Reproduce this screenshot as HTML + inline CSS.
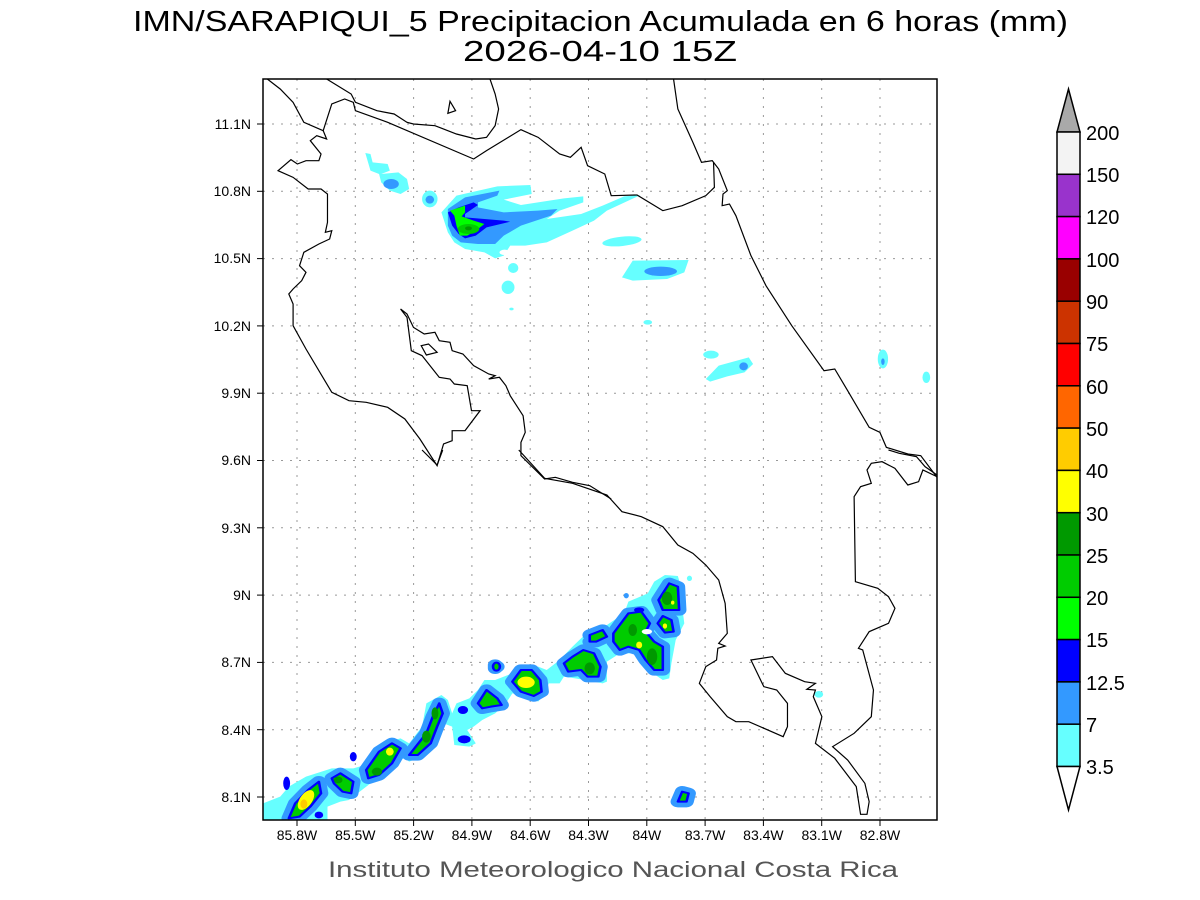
<!DOCTYPE html>
<html><head><meta charset="utf-8"><style>
body{margin:0;background:#fff;}
svg{display:block;font-family:"Liberation Sans",sans-serif;}
</style></head><body>
<svg width="1200" height="900" viewBox="0 0 1200 900" xmlns="http://www.w3.org/2000/svg">
<rect width="1200" height="900" fill="#fff"/>
<text x="133" y="31" font-size="29" fill="#000" textLength="935" lengthAdjust="spacingAndGlyphs">IMN/SARAPIQUI_5 Precipitacion Acumulada en 6 horas (mm)</text>
<text x="463" y="61" font-size="29" fill="#000" textLength="274" lengthAdjust="spacingAndGlyphs">2026-04-10 15Z</text>

<!-- grid -->
<g stroke="#999" stroke-width="1" stroke-dasharray="2,7">
<line x1="297" y1="79" x2="297" y2="820"/><line x1="355.3" y1="79" x2="355.3" y2="820"/><line x1="413.6" y1="79" x2="413.6" y2="820"/><line x1="471.9" y1="79" x2="471.9" y2="820"/><line x1="530.2" y1="79" x2="530.2" y2="820"/><line x1="588.5" y1="79" x2="588.5" y2="820"/><line x1="646.8" y1="79" x2="646.8" y2="820"/><line x1="705.1" y1="79" x2="705.1" y2="820"/><line x1="763.4" y1="79" x2="763.4" y2="820"/><line x1="821.7" y1="79" x2="821.7" y2="820"/><line x1="880" y1="79" x2="880" y2="820"/>
<line x1="263" y1="124" x2="937" y2="124"/><line x1="263" y1="191.3" x2="937" y2="191.3"/><line x1="263" y1="258.6" x2="937" y2="258.6"/><line x1="263" y1="325.9" x2="937" y2="325.9"/><line x1="263" y1="393.2" x2="937" y2="393.2"/><line x1="263" y1="460.5" x2="937" y2="460.5"/><line x1="263" y1="527.8" x2="937" y2="527.8"/><line x1="263" y1="595.1" x2="937" y2="595.1"/><line x1="263" y1="662.4" x2="937" y2="662.4"/><line x1="263" y1="729.7" x2="937" y2="729.7"/><line x1="263" y1="797" x2="937" y2="797"/>
</g>

<defs><clipPath id="c"><rect x="263" y="79" width="674" height="741"/></clipPath></defs>
<g clip-path="url(#c)">
<g transform="translate(263,79) scale(0.4299,0.33333)">
<polygon fill="#66ffff" points="415,400 450,350 545,322 622,318 625,345 560,362 600,378 700,358 745,352 745,370 690,395 660,420 740,405 790,380 840,352 878,348 850,365 800,395 770,425 720,455 660,490 610,500 575,500 560,530 540,538 515,520 470,510 445,490 430,460"/>
<polygon fill="#3399ff" points="430,390 470,355 550,335 545,350 500,370 500,385 560,400 640,395 685,390 670,410 600,440 560,470 540,495 500,495 460,490 440,470 430,440"/>
<polygon fill="#0000ff" points="430,400 455,385 490,370 500,378 470,405 470,415 560,425 575,428 520,445 495,470 470,478 455,465 440,440"/>
<polygon fill="#00ff00" points="435,395 470,380 470,400 462,412 490,425 515,435 495,455 475,470 458,470 450,440 445,410"/>
<ellipse cx="478" cy="450" rx="25" ry="15" fill="#00cc00"/>
<ellipse cx="478" cy="448" rx="8" ry="6" fill="#009900"/>
<ellipse cx="562" cy="520" rx="12" ry="8" fill="#fff"/>
<polygon fill="#66ffff" points="238,222 250,225 255,250 290,255 295,275 275,285 315,280 335,300 340,330 320,345 295,335 275,310 270,285 250,275"/>
<ellipse cx="298" cy="315" rx="18" ry="15" fill="#3399ff"/>
<ellipse cx="388" cy="360" rx="18" ry="25" fill="#66ffff"/>
<ellipse cx="388" cy="362" rx="10" ry="12" fill="#3399ff"/>
<ellipse cx="835" cy="487" rx="46" ry="14" fill="#66ffff" transform="rotate(-8 835 487)"/>
<polygon fill="#66ffff" points="835,595 860,545 990,543 980,580 940,600 860,605"/>
<ellipse cx="925" cy="577" rx="38" ry="14" fill="#3399ff"/>
<ellipse cx="582" cy="567" rx="12" ry="15" fill="#66ffff"/>
<ellipse cx="570" cy="625" rx="15" ry="20" fill="#66ffff"/>
<ellipse cx="578" cy="690" rx="5" ry="4" fill="#66ffff"/>
<ellipse cx="895" cy="730" rx="10" ry="7" fill="#66ffff"/>
<ellipse cx="1042" cy="827" rx="18" ry="12" fill="#66ffff"/>
<polygon fill="#66ffff" points="1030,900 1060,860 1130,835 1140,855 1120,880 1080,892 1040,908"/>
<ellipse cx="1118" cy="862" rx="10" ry="12" fill="#3399ff"/>
<ellipse cx="1442" cy="840" rx="12" ry="28" fill="#66ffff"/>
<ellipse cx="1442" cy="848" rx="4" ry="10" fill="#3399ff"/>
<ellipse cx="1543" cy="895" rx="9" ry="17" fill="#66ffff"/>
</g>

<g transform="translate(263,450) scale(0.4299,0.33333)">
<polygon fill="#66ffff" points="0,1060 40,1040 60,1010 100,980 160,955 210,955 250,940 290,875 320,865 340,880 370,830 380,760 415,735 430,750 440,790 450,760 480,745 500,720 515,690 540,690 580,670 600,650 640,650 660,660 690,630 720,590 760,540 800,525 840,490 850,455 895,430 910,395 935,375 965,378 970,400 975,470 980,520 960,570 950,640 945,685 930,690 890,655 865,610 830,610 800,635 800,695 790,700 750,690 700,680 690,700 665,700 650,740 640,755 615,740 580,730 565,760 540,790 510,810 490,830 475,840 495,880 480,890 445,885 440,830 420,820 400,880 370,920 340,935 330,925 310,930 295,970 250,1000 230,1020 200,1050 180,1055 150,1070 150,1110 0,1110"/>
<g fill="#3399ff" stroke="#3399ff" stroke-width="34" stroke-linejoin="round">
<polygon points="60,1105 75,1060 105,1020 130,995 135,1030 110,1070 85,1100"/>
<polygon points="160,985 180,970 210,995 205,1030 185,1025 165,1000"/>
<polygon points="240,960 270,905 300,880 320,895 300,940 270,975 245,985"/>
<polygon points="340,915 380,850 395,800 410,760 418,790 405,830 390,880 360,915"/>
<polygon points="500,760 520,720 545,745 555,765 530,770 510,775"/>
<polygon points="580,695 600,660 625,660 645,690 648,725 630,738 600,725"/>
<polygon points="700,640 720,620 745,600 770,610 785,650 780,680 755,680 740,660 710,665"/>
<polygon points="760,555 790,540 800,560 775,575 760,575 800,560 815,550"/>
<polygon points="815,550 850,490 880,485 900,520 890,545 910,575 930,590 930,660 910,660 890,630 875,600 850,590 830,600 815,575"/>
<polygon points="920,450 945,400 965,410 968,480 930,480"/>
<polygon points="918,520 930,498 950,510 955,545 935,548"/>
<polygon points="965,1055 975,1025 990,1030 985,1055"/>
<polygon points="540,645 545,650 540,655"/>
</g>
<g fill="#00cc00" stroke="#0000ff" stroke-width="6" stroke-linejoin="round" vector-effect="non-scaling-stroke">
<polygon points="60,1105 75,1060 105,1020 130,995 135,1030 110,1070 85,1100"/>
<polygon points="160,985 180,970 210,995 205,1030 185,1025 165,1000"/>
<polygon points="240,960 270,905 300,880 320,895 300,940 270,975 245,985"/>
<polygon points="340,915 380,850 395,800 410,760 418,790 405,830 390,880 360,915"/>
<polygon points="500,760 520,720 545,745 555,765 530,770 510,775"/>
<polygon points="580,695 600,660 625,660 645,690 648,725 630,738 600,725"/>
<polygon points="700,640 720,620 745,600 770,610 785,650 780,680 755,680 740,660 710,665"/>
<polygon points="760,555 790,540 800,560 775,575 760,575"/>
<polygon points="815,550 850,490 880,485 900,520 890,545 910,575 930,590 930,660 910,660 890,630 875,600 850,590 830,600 815,575"/>
<polygon points="920,450 945,400 965,410 968,480 930,480"/>
<polygon points="918,520 930,498 950,510 955,545 935,548"/>
<polygon points="965,1055 975,1025 990,1030 985,1055"/>
<ellipse cx="543" cy="650" rx="8" ry="12"/>
</g>
<g fill="#0000ff">
<ellipse cx="465" cy="780" rx="12" ry="12"/><ellipse cx="468" cy="868" rx="15" ry="12"/><ellipse cx="55" cy="1000" rx="8" ry="20"/><ellipse cx="130" cy="1095" rx="10" ry="10"/><ellipse cx="210" cy="920" rx="8" ry="14"/><ellipse cx="875" cy="480" rx="12" ry="8"/>
</g>
<g fill="#009900">
<ellipse cx="175" cy="990" rx="10" ry="10"/><ellipse cx="265" cy="965" rx="12" ry="12"/><ellipse cx="400" cy="790" rx="8" ry="18"/><ellipse cx="380" cy="860" rx="10" ry="18"/><ellipse cx="760" cy="655" rx="12" ry="18"/><ellipse cx="905" cy="620" rx="12" ry="25"/><ellipse cx="940" cy="445" rx="12" ry="20"/><ellipse cx="860" cy="540" rx="10" ry="18"/>
</g>
<ellipse cx="100" cy="1050" rx="15" ry="32" fill="#ffff00" transform="rotate(25 100 1050)"/>
<ellipse cx="95" cy="1062" rx="8" ry="14" fill="#ffcc00"/>
<ellipse cx="295" cy="905" rx="9" ry="12" fill="#ffff00"/>
<ellipse cx="612" cy="697" rx="20" ry="17" fill="#ffff00"/>
<ellipse cx="875" cy="585" rx="7" ry="10" fill="#ffff00"/>
<ellipse cx="953" cy="458" rx="4" ry="6" fill="#ffff00"/>
<ellipse cx="935" cy="528" rx="5" ry="8" fill="#ffff00"/>
<ellipse cx="893" cy="545" rx="12" ry="8" fill="#fff"/>
<ellipse cx="1293" cy="733" rx="10" ry="10" fill="#66ffff"/>
<ellipse cx="992" cy="385" rx="6" ry="8" fill="#66ffff"/>
<ellipse cx="845" cy="437" rx="6" ry="8" fill="#3399ff"/>
</g>

<g transform="translate(263,79) scale(0.4299,0.33333)" fill="none" stroke="#000" stroke-width="1.2">
<polyline vector-effect="non-scaling-stroke" points="148,0 205,45 215,70 265,95 305,105 335,130 350,135 400,140 450,165 495,180 520,175 540,140 548,90 540,45 528,0"/>
<polyline vector-effect="non-scaling-stroke" points="10,0 40,30 70,70 95,130 140,155 160,75 190,60 210,70 215,95 290,130 490,240 520,215 600,152 640,175 690,225 715,235 740,205 755,260 795,285 810,350 870,348 930,395 975,380 1030,350 1050,325 1048,250"/>
<polyline vector-effect="non-scaling-stroke" points="955,0 965,90 1000,190 1020,250 1045,245 1060,270 1080,335 1070,345 1068,380 1085,375 1100,410 1135,530 1170,620 1230,740 1305,875 1330,870 1360,935 1410,1045 1435,1060 1450,1105 1500,1125 1530,1130 1568,1195"/>
<polyline vector-effect="non-scaling-stroke" points="140,155 148,180 125,170 110,185 135,225 130,245 100,245 80,255 65,242 35,275 70,295 105,330 135,330 150,345 150,430 145,460 160,455 155,480 130,495 95,520 85,560 100,580 90,605 70,630 60,645 70,675 70,740 100,810 160,940 200,965 240,970 290,985 330,1020 365,1080 405,1160 420,1095 440,1085 440,1055 470,1055 505,995 485,995 475,920 445,915 435,900 410,895 370,830 345,815 335,715 320,690 335,705 350,745 375,765 400,760 410,785 435,790 440,815 465,825 490,860 525,885 540,890 525,900 550,895 565,920 575,950 605,1010 610,1060 600,1090 600,1130 655,1200 680,1195 720,1210 760,1220 810,1260"/>
<polygon vector-effect="non-scaling-stroke" points="368,800 385,795 405,820 380,828"/>
<polygon vector-effect="non-scaling-stroke" points="435,67 448,95 430,103"/>
</g>
<g transform="translate(263,450) scale(0.4299,0.33333)" fill="none" stroke="#000" stroke-width="1.2">
<polyline vector-effect="non-scaling-stroke" points="595,0 655,85 720,100 800,135 835,185 880,200 930,230 965,285 1000,310 1030,345 1060,390 1075,460 1080,550 1060,580 1075,588 1058,595 1055,630 1030,650 1015,700 1040,740 1080,800 1100,815 1130,815 1210,860 1220,830 1220,760 1195,720 1165,710 1135,630 1185,620 1215,670 1260,695 1285,700 1265,718 1285,720 1280,740 1290,770 1300,800 1285,880 1330,925 1380,1010 1390,1093 1405,1093 1410,1055 1400,1000 1360,930 1325,890 1375,850 1415,800 1420,720 1395,600 1385,595 1410,545 1455,520 1470,475 1455,440 1430,415 1378,395 1375,140 1390,110 1415,100 1405,60 1415,40 1440,35 1470,55 1500,105 1525,95 1535,60 1568,80"/>
<polyline vector-effect="non-scaling-stroke" points="1455,0 1480,10 1520,20 1540,50 1568,75"/>
<polyline vector-effect="non-scaling-stroke" points="370,0 405,45 418,0"/>
</g>
</g>

<rect x="263" y="79" width="674" height="741" fill="none" stroke="#000" stroke-width="1.5"/>

<g stroke="#000" stroke-width="1">
<line x1="297" y1="820" x2="297" y2="826"/><line x1="355.3" y1="820" x2="355.3" y2="826"/><line x1="413.6" y1="820" x2="413.6" y2="826"/><line x1="471.9" y1="820" x2="471.9" y2="826"/><line x1="530.2" y1="820" x2="530.2" y2="826"/><line x1="588.5" y1="820" x2="588.5" y2="826"/><line x1="646.8" y1="820" x2="646.8" y2="826"/><line x1="705.1" y1="820" x2="705.1" y2="826"/><line x1="763.4" y1="820" x2="763.4" y2="826"/><line x1="821.7" y1="820" x2="821.7" y2="826"/><line x1="880" y1="820" x2="880" y2="826"/>
<line x1="257" y1="124" x2="263" y2="124"/><line x1="257" y1="191.3" x2="263" y2="191.3"/><line x1="257" y1="258.6" x2="263" y2="258.6"/><line x1="257" y1="325.9" x2="263" y2="325.9"/><line x1="257" y1="393.2" x2="263" y2="393.2"/><line x1="257" y1="460.5" x2="263" y2="460.5"/><line x1="257" y1="527.8" x2="263" y2="527.8"/><line x1="257" y1="595.1" x2="263" y2="595.1"/><line x1="257" y1="662.4" x2="263" y2="662.4"/><line x1="257" y1="729.7" x2="263" y2="729.7"/><line x1="257" y1="797" x2="263" y2="797"/>
</g>
<g font-size="14" fill="#000" text-anchor="middle">
<text x="297" y="840">85.8W</text><text x="355.3" y="840">85.5W</text><text x="413.6" y="840">85.2W</text><text x="471.9" y="840">84.9W</text><text x="530.2" y="840">84.6W</text><text x="588.5" y="840">84.3W</text><text x="646.8" y="840">84W</text><text x="705.1" y="840">83.7W</text><text x="763.4" y="840">83.4W</text><text x="821.7" y="840">83.1W</text><text x="880" y="840">82.8W</text>
</g>
<g font-size="14" fill="#000" text-anchor="end">
<text x="251" y="129">11.1N</text><text x="251" y="196">10.8N</text><text x="251" y="263">10.5N</text><text x="251" y="331">10.2N</text><text x="251" y="398">9.9N</text><text x="251" y="465">9.6N</text><text x="251" y="533">9.3N</text><text x="251" y="600">9N</text><text x="251" y="667">8.7N</text><text x="251" y="735">8.4N</text><text x="251" y="802">8.1N</text>
</g>
<text x="328" y="877" font-size="22" fill="#555" textLength="570" lengthAdjust="spacingAndGlyphs">Instituto Meteorologico Nacional Costa Rica</text>

<g stroke="#000" stroke-width="1.5">
<polygon points="1057,132 1080,132 1068.5,89" fill="#a9a9a9"/>
<rect x="1057" y="132" width="23" height="42.3" fill="#f3f3f3"/>
<rect x="1057" y="174.3" width="23" height="42.3" fill="#9933cc"/>
<rect x="1057" y="216.6" width="23" height="42.3" fill="#ff00ff"/>
<rect x="1057" y="258.9" width="23" height="42.3" fill="#990000"/>
<rect x="1057" y="301.2" width="23" height="42.3" fill="#cc3300"/>
<rect x="1057" y="343.5" width="23" height="42.3" fill="#ff0000"/>
<rect x="1057" y="385.8" width="23" height="42.3" fill="#ff6600"/>
<rect x="1057" y="428.1" width="23" height="42.3" fill="#ffcc00"/>
<rect x="1057" y="470.4" width="23" height="42.3" fill="#ffff00"/>
<rect x="1057" y="512.7" width="23" height="42.3" fill="#009900"/>
<rect x="1057" y="555" width="23" height="42.3" fill="#00cc00"/>
<rect x="1057" y="597.3" width="23" height="42.3" fill="#00ff00"/>
<rect x="1057" y="639.6" width="23" height="42.3" fill="#0000ff"/>
<rect x="1057" y="681.9" width="23" height="42.3" fill="#3399ff"/>
<rect x="1057" y="724.2" width="23" height="42.3" fill="#66ffff"/>
<polygon points="1057,766.5 1080,766.5 1068.5,810" fill="#fff"/>
</g>
<g font-size="20" fill="#000">
<text x="1086" y="140">200</text><text x="1086" y="182">150</text><text x="1086" y="224">120</text><text x="1086" y="267">100</text><text x="1086" y="309">90</text><text x="1086" y="351">75</text><text x="1086" y="394">60</text><text x="1086" y="436">50</text><text x="1086" y="478">40</text><text x="1086" y="521">30</text><text x="1086" y="563">25</text><text x="1086" y="605">20</text><text x="1086" y="647">15</text><text x="1086" y="690">12.5</text><text x="1086" y="732">7</text><text x="1086" y="774">3.5</text>
</g>
</svg>
</body></html>
